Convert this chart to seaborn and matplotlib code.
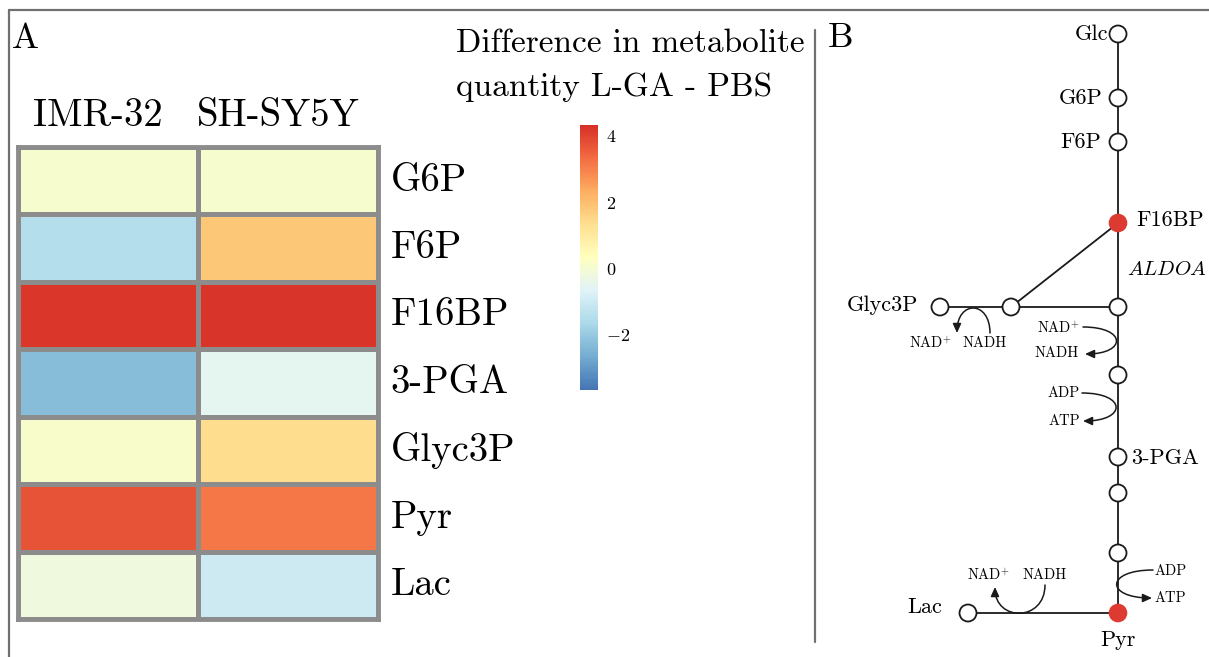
import numpy as np
import pandas as pd
import matplotlib
matplotlib.use("Agg")
import matplotlib.pyplot as plt
import matplotlib.transforms as mtransforms
import seaborn as sns
from matplotlib.colors import ListedColormap
from matplotlib.path import Path
from matplotlib.patches import FancyArrowPatch, Circle

# ---------------- data ----------------
metabolites = ["G6P", "F6P", "F16BP", "3-PGA", "Glyc3P", "Pyr", "Lac"]
cell_lines = ["IMR-32", "SH-SY5Y"]
imr32 = [0.1, -1.5, 4.2, -2.3, 0.12, 3.75, -0.2]
shsy5y = [0.1, 1.85, 4.25, -0.5, 1.35, 3.15, -1.0]
cbar_ticks = [-2, 0, 2, 4]
vmin, vmax = -3.67, 4.33
cbar_title = ["Difference in metabolite", "quantity L-GA - PBS"]

# ---------------- style ----------------
sns.set_theme(style="white")
plt.rcParams["font.family"] = ["cmr10", "DejaVu Serif"]
plt.rcParams["mathtext.fontset"] = "cm"
plt.rcParams["axes.formatter.use_mathtext"] = True
for k in ["text.color", "xtick.color", "ytick.color", "axes.labelcolor"]:
    plt.rcParams[k] = "black"

W, H = 1209, 657
fig = plt.figure(figsize=(W / 100, H / 100), dpi=100)

def rect(x0, y0, x1, y1):
    return [x0 / W, 1 - y1 / H, (x1 - x0) / W, (y1 - y0) / H]

df = pd.DataFrame({cell_lines[0]: imr32, cell_lines[1]: shsy5y}, index=metabolites)
cmap = ListedColormap(plt.get_cmap("RdYlBu_r")(np.linspace(0.1, 0.9, 256)))

ax = fig.add_axes(rect(18, 147, 378, 619))
cax = fig.add_axes(rect(580, 125, 598, 390))
grid_c = "#8c8c8c"
sns.heatmap(df, ax=ax, cmap=cmap, vmin=vmin, vmax=vmax, linewidths=3.5,
            linecolor=grid_c, cbar_ax=cax, cbar_kws={"ticks": cbar_ticks})
ax.set_xlabel("")
ax.set_ylabel("")
ax.xaxis.tick_top()
ax.set_xticklabels(cell_lines, fontsize=28)
ax.yaxis.tick_right()
ax.set_yticklabels(metabolites, rotation=0, fontsize=28, va="center")
ax.tick_params(axis="x", length=0, pad=9)
ax.tick_params(axis="y", length=0, pad=9)
shift = mtransforms.ScaledTranslation(-10 / 100, 0, fig.dpi_scale_trans)
for lbl in ax.get_xticklabels():
    lbl.set_transform(lbl.get_transform() + shift)
for s in ax.spines.values():
    s.set_visible(True)
    s.set_color(grid_c)
    s.set_linewidth(3.5)

cbar = ax.collections[0].colorbar
cbar.outline.set_visible(False)
cax.tick_params(length=0, labelsize=13, pad=6, colors="black")

# ---------------- overlay (pixel coordinates) ----------------
ov = fig.add_axes([0, 0, 1, 1])
ov.set_xlim(0, W)
ov.set_ylim(H, 0)
ov.axis("off")
ov.patch.set_alpha(0)

frame_c = "#707070"
ov.plot([9, W], [10, 10], color=frame_c, lw=1.6)
ov.plot([9, 9], [10, H], color=frame_c, lw=1.6)
ov.plot([815, 815], [30, 642], color=frame_c, lw=1.6)

ov.text(12, 48, "A", fontsize=26, va="baseline")
ov.text(828, 47, "B", fontsize=26, va="baseline")
ov.text(456, 52, cbar_title[0], fontsize=24, va="baseline")
ov.text(456, 96, cbar_title[1], fontsize=24, va="baseline")

# pathway diagram
mx = 1118
main_y = [34, 98, 142, 223, 307, 375, 457, 493, 553, 613]
filled = {223, 613}
red = "#dd3a31"
lw = 1.3
ov.plot([mx, mx], [main_y[0], main_y[-1]], color="k", lw=lw, zorder=1)
ov.plot([940, mx], [307, 307], color="k", lw=lw, zorder=1)
ov.plot([1011, mx], [307, 223], color="k", lw=lw, zorder=1)
ov.plot([968, mx], [613, 613], color="k", lw=lw, zorder=1)

r = 8.5
for y in main_y:
    if y in filled:
        ov.add_patch(Circle((mx, y), r + 0.8, facecolor=red, edgecolor=red, lw=0, zorder=3))
    else:
        ov.add_patch(Circle((mx, y), r, facecolor="white", edgecolor="k", lw=lw, zorder=3))
for (x, y) in [(940, 307), (1011, 307), (968, 613)]:
    ov.add_patch(Circle((x, y), r, facecolor="white", edgecolor="k", lw=lw, zorder=3))

big = 16
ov.text(1108, 34, "Glc", fontsize=big, ha="right", va="center")
ov.text(1102, 98, "G6P", fontsize=big, ha="right", va="center")
ov.text(1101, 142, "F6P", fontsize=big, ha="right", va="center")
ov.text(1136, 220, "F16BP", fontsize=big, ha="left", va="center")
ov.text(1127, 270, r"$ALDOA$", fontsize=15, ha="left", va="center")
ov.text(918, 305, "Glyc3P", fontsize=big, ha="right", va="center")
ov.text(1131, 458, "3-PGA", fontsize=big, ha="left", va="center")
ov.text(942, 607, "Lac", fontsize=big, ha="right", va="center")
ov.text(mx, 640, "Pyr", fontsize=big, ha="center", va="center")

small = 10.5
nadp = r"NAD$^{+}$"
ov.text(930, 343, nadp, fontsize=small, ha="center", va="center")
ov.text(985, 343, "NADH", fontsize=small, ha="center", va="center")
ov.text(1080, 328, nadp, fontsize=small, ha="right", va="center")
ov.text(1079, 353, "NADH", fontsize=small, ha="right", va="center")
ov.text(1080, 393, "ADP", fontsize=small, ha="right", va="center")
ov.text(1080, 421, "ATP", fontsize=small, ha="right", va="center")
ov.text(1155, 571, "ADP", fontsize=small, ha="left", va="center")
ov.text(1155, 598, "ATP", fontsize=small, ha="left", va="center")
ov.text(988, 575, nadp, fontsize=small, ha="center", va="center")
ov.text(1045, 575, "NADH", fontsize=small, ha="center", va="center")

codes = [Path.MOVETO, Path.CURVE4, Path.CURVE4, Path.CURVE4]
arcs = [
    [(990, 333), (990, 300), (957, 300), (957, 333)],
    [(1083, 327), (1127, 327), (1127, 354), (1085, 354)],
    [(1082, 393), (1127, 393), (1127, 421), (1083, 421)],
    [(1153, 570), (1105, 570), (1105, 598), (1152, 598)],
    [(1045, 585), (1045, 622), (995, 622), (995, 587)],
]
for v in arcs:
    p = FancyArrowPatch(path=Path(v, codes), arrowstyle="-|>,head_length=0.55,head_width=0.25",
                        mutation_scale=10, color="k", lw=1.1, zorder=2)
    ov.add_patch(p)

fig.savefig("out.png", dpi=100)
